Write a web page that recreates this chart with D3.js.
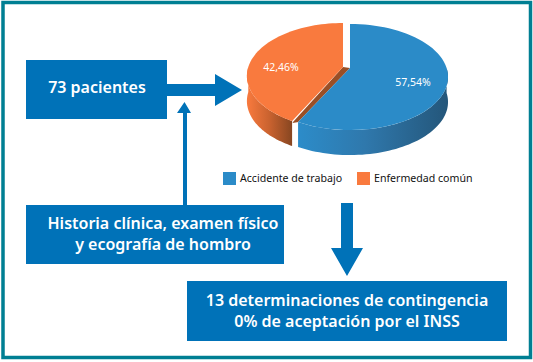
<!DOCTYPE html>
<html>
<head>
<meta charset="utf-8">
<script src="https://cdn.jsdelivr.net/npm/d3@7"></script>
<style>
  html, body { margin: 0; padding: 0; background: #fff; }
  svg { display: block; }
  text { font-family: "Noto Sans", "Open Sans", sans-serif; }
</style>
</head>
<body>
<svg width="533" height="362"></svg>
<script>
const categories = ["Accidente de trabajo", "Enfermedad común"]
const shares = [57.54, 42.46]
const shareLabels = ["57,54%", "42,46%"]
const box_lines = [
  ["73 pacientes"],
  ["Historia clínica, examen físico", "y ecografía de hombro"],
  ["13 determinaciones de contingencia", "0% de aceptación por el INSS"]
]

const BLUE = "#0072b8", TEAL = "#007f93"
const svg = d3.select("svg")
const defs = svg.append("defs")

function gradient(id, stops) {
  const g = defs.append("linearGradient").attr("id", id)
  stops.forEach(s => g.append("stop").attr("offset", s[0]).attr("stop-color", s[1]))
}
gradient("wall-blue", [[0, "#2c8cc9"], [0.45, "#2f78ac"], [1, "#24567a"]])
gradient("wall-orange", [[0, "#f97a3e"], [0.5, "#c9622f"], [1, "#874621"]])

// frame
svg.append("rect")
  .attr("x", 3).attr("y", 2.5).attr("width", 527.5).attr("height", 355)
  .attr("fill", "#fff").attr("stroke", TEAL).attr("stroke-width", 3.5)

// boxes
const boxes = [
  { x: 26, y: 60, w: 141, h: 59, size: 16, cx: 97, base: [93] },
  { x: 26, y: 205, w: 258, h: 59, size: 16, cx: 163, base: [229, 250] },
  { x: 187, y: 281, w: 320, h: 60, size: 16, cx: 347, base: [306, 327] }
]
boxes.forEach((b, i) => {
  svg.append("rect").attr("x", b.x).attr("y", b.y).attr("width", b.w).attr("height", b.h).attr("fill", BLUE)
  box_lines[i].forEach((t, j) => {
    svg.append("text").attr("x", b.cx).attr("y", b.base[j])
      .attr("text-anchor", "middle").attr("fill", "#fff")
      .attr("font-size", b.size).attr("font-weight", 600).text(t)
  })
})

// arrows
const arrows = [
  [[167, 84], [215, 84], [215, 74], [242, 90], [215, 106], [215, 96], [167, 96]],
  [[183, 205], [183, 113], [177, 113], [184.5, 102], [191, 113], [187, 113], [187, 205]],
  [[341, 203], [353, 203], [353, 248], [363, 248], [347, 276], [331, 248], [341, 248]]
]
svg.selectAll("polygon.arrow").data(arrows).enter().append("polygon")
  .attr("class", "arrow")
  .attr("points", d => d.join(" "))
  .attr("fill", BLUE)

// pie: d3.pie angles projected with a bit of perspective
const slices = d3.pie().sort(null)(shares)
const k = 0.17, B = 51.5, depth = 25
const apex = [{ x: 350, y: 68, A: 96.6 }, { x: 343, y: 67, A: 94.7 }]

function project(a, ang, drop) {
  const w = 1 + k * Math.cos(ang)
  return [a.x + a.A * Math.sin(ang) / w, a.y - B * Math.cos(ang) / w + (drop || 0)]
}
function arc_points(a, from, to, drop) {
  return d3.range(0, 61).map(i => project(a, from + (to - from) * i / 60, drop))
}
const line = d3.line()

function wall(a, from, to, fill) {
  const pts = arc_points(a, from, to, 0).concat(arc_points(a, to, from, depth))
  svg.append("path").attr("d", line(pts) + "Z").attr("fill", fill)
}
function top_face(s, a, fill) {
  const pts = [[a.x, a.y]].concat(arc_points(a, s.startAngle, s.endAngle, 0))
  svg.append("path").attr("d", line(pts) + "Z").attr("fill", fill)
}

const cut = slices[0].endAngle
// only the front of the rim shows a wall
wall(apex[1], cut, 1.5 * Math.PI, "url(#wall-orange)")

// brown cut face between both slices
const corner_o = project(apex[1], cut), corner_b = project(apex[0], cut)
svg.append("polygon")
  .attr("points", [[apex[1].x, apex[1].y], [apex[0].x, apex[0].y], corner_b, [corner_o[0], corner_o[1] + 2]].join(" "))
  .attr("fill", "#9a4f26")

wall(apex[0], Math.PI / 2, cut, "url(#wall-blue)")

top_face(slices[1], apex[1], "#f97a3e")
top_face(slices[0], apex[0], "#2b8bc8")

const label_pos = [[413, 86], [281, 71]]
shareLabels.forEach((t, i) => {
  svg.append("text").attr("x", label_pos[i][0]).attr("y", label_pos[i][1])
    .attr("text-anchor", "middle").attr("fill", "#fff").attr("font-size", 10.5).text(t)
})

// legend
const legend_x = [223, 357]
categories.forEach((c, i) => {
  svg.append("rect").attr("x", legend_x[i]).attr("y", 172).attr("width", 13).attr("height", 13)
    .attr("fill", i ? "#f97a3e" : "#2b8bc8")
  svg.append("text").attr("x", legend_x[i] + 17).attr("y", 182)
    .attr("font-size", 10.6).attr("fill", "#111").text(c)
})
</script>
</body>
</html>
